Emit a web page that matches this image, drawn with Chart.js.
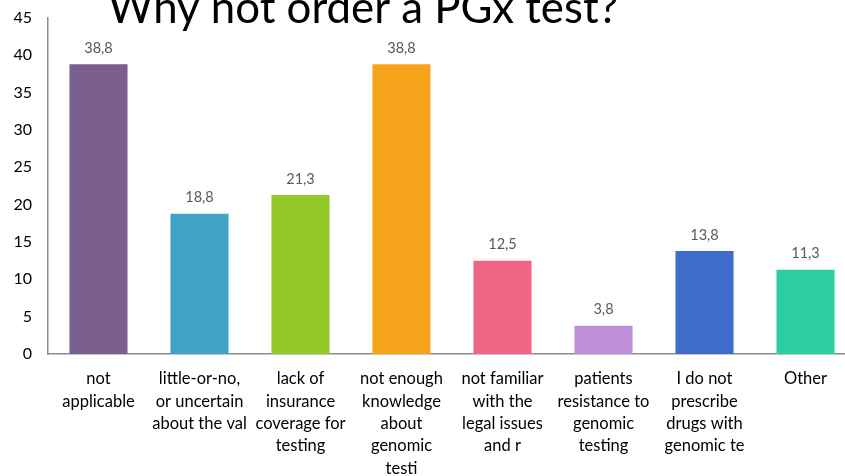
<!DOCTYPE html>
<html>
<head>
<meta charset="utf-8">
<script src="https://cdn.jsdelivr.net/npm/chart.js@4/dist/chart.umd.min.js"></script>
<style>
  html, body { margin: 0; padding: 0; background: #fff; overflow: hidden; }
  #wrap { position: relative; width: 860px; height: 476px; }
</style>
</head>
<body>
<div id="wrap"><canvas id="pgx" width="860" height="476"></canvas></div>
<script>
var categories = [
    ["not", "applicable"],
    ["little-or-no,", "or uncertain", "about the val"],
    ["lack of", "insurance", "coverage for", "testing"],
    ["not enough", "knowledge", "about", "genomic", "testi"],
    ["not familiar", "with the", "legal issues", "and r"],
    ["patients", "resistance to", "genomic", "testing"],
    ["I do not", "prescribe", "drugs with", "genomic te"],
    ["Other"]
];
var values = [38.8, 18.8, 21.3, 38.8, 12.5, 3.8, 13.8, 11.3];
var barColors = ['#7B5F8E', '#3FA3C4', '#93C829', '#F5A31B', '#EF6584', '#BE8FD8', '#3D6CCB', '#2DCEA3'];
var yTicks = [0, 5, 10, 15, 20, 25, 30, 35, 40, 45];
var chartTitle = "Why not order a PGx test?";

// value labels above bars, comma decimals
var valueLabels = {
    id: 'valueLabels',
    afterDatasetsDraw: function(chart) {
        var ctx = chart.ctx;
        var meta = chart.getDatasetMeta(0);
        ctx.save();
        ctx.font = '14.5px Lato';
        ctx.fillStyle = '#595959';
        ctx.textAlign = 'center';
        ctx.textBaseline = 'middle';
        meta.data.forEach(function(bar, i) {
            ctx.fillText(values[i].toFixed(1).replace('.', ','), bar.x, bar.y - 16);
        });
        ctx.restore();
    }
};

// big title, partly cut off at the top edge
var bigTitle = {
    id: 'bigTitle',
    afterDraw: function(chart) {
        var ctx = chart.ctx;
        ctx.save();
        ctx.font = '43.8px Lato';
        ctx.fillStyle = '#000';
        ctx.textAlign = 'left';
        ctx.textBaseline = 'alphabetic';
        ctx.fillText(chartTitle, 108, 23);
        ctx.restore();
    }
};

new Chart(document.getElementById('pgx').getContext('2d'), {
    type: 'bar',
    data: {
        labels: categories,
        datasets: [{
            data: values,
            backgroundColor: barColors,
            borderWidth: 0,
            categoryPercentage: 1,
            barPercentage: 0.575
        }]
    },
    options: {
        responsive: false,
        animation: false,
        devicePixelRatio: 1,
        layout: { padding: { top: 18, right: 4, left: 0, bottom: 0 } },
        plugins: {
            legend: { display: false },
            tooltip: { enabled: false }
        },
        scales: {
            x: {
                grid: { display: false, drawTicks: false },
                border: { color: '#8c8c8c', width: 1.5 },
                ticks: {
                    color: '#000',
                    font: { family: 'Lato', size: 16.5, lineHeight: 1.35 },
                    padding: 14,
                    maxRotation: 0,
                    autoSkip: false
                },
                afterFit: function(axis) {
                    axis.height = 122;
                    axis.paddingLeft = 0;
                    axis.paddingRight = 0;
                }
            },
            y: {
                min: 0,
                max: 45,
                grid: { display: false, drawTicks: false },
                border: { color: '#8c8c8c', width: 1.5 },
                afterBuildTicks: function(axis) {
                    axis.ticks = yTicks.map(function(v) { return { value: v }; });
                },
                ticks: {
                    color: '#000',
                    font: { family: 'Lato', size: 16 },
                    padding: 16
                },
                afterFit: function(axis) {
                    axis.width = 48;
                    axis.paddingTop = 0;
                    axis.paddingBottom = 0;
                }
            }
        }
    },
    plugins: [valueLabels, bigTitle]
});
</script>
</body>
</html>
